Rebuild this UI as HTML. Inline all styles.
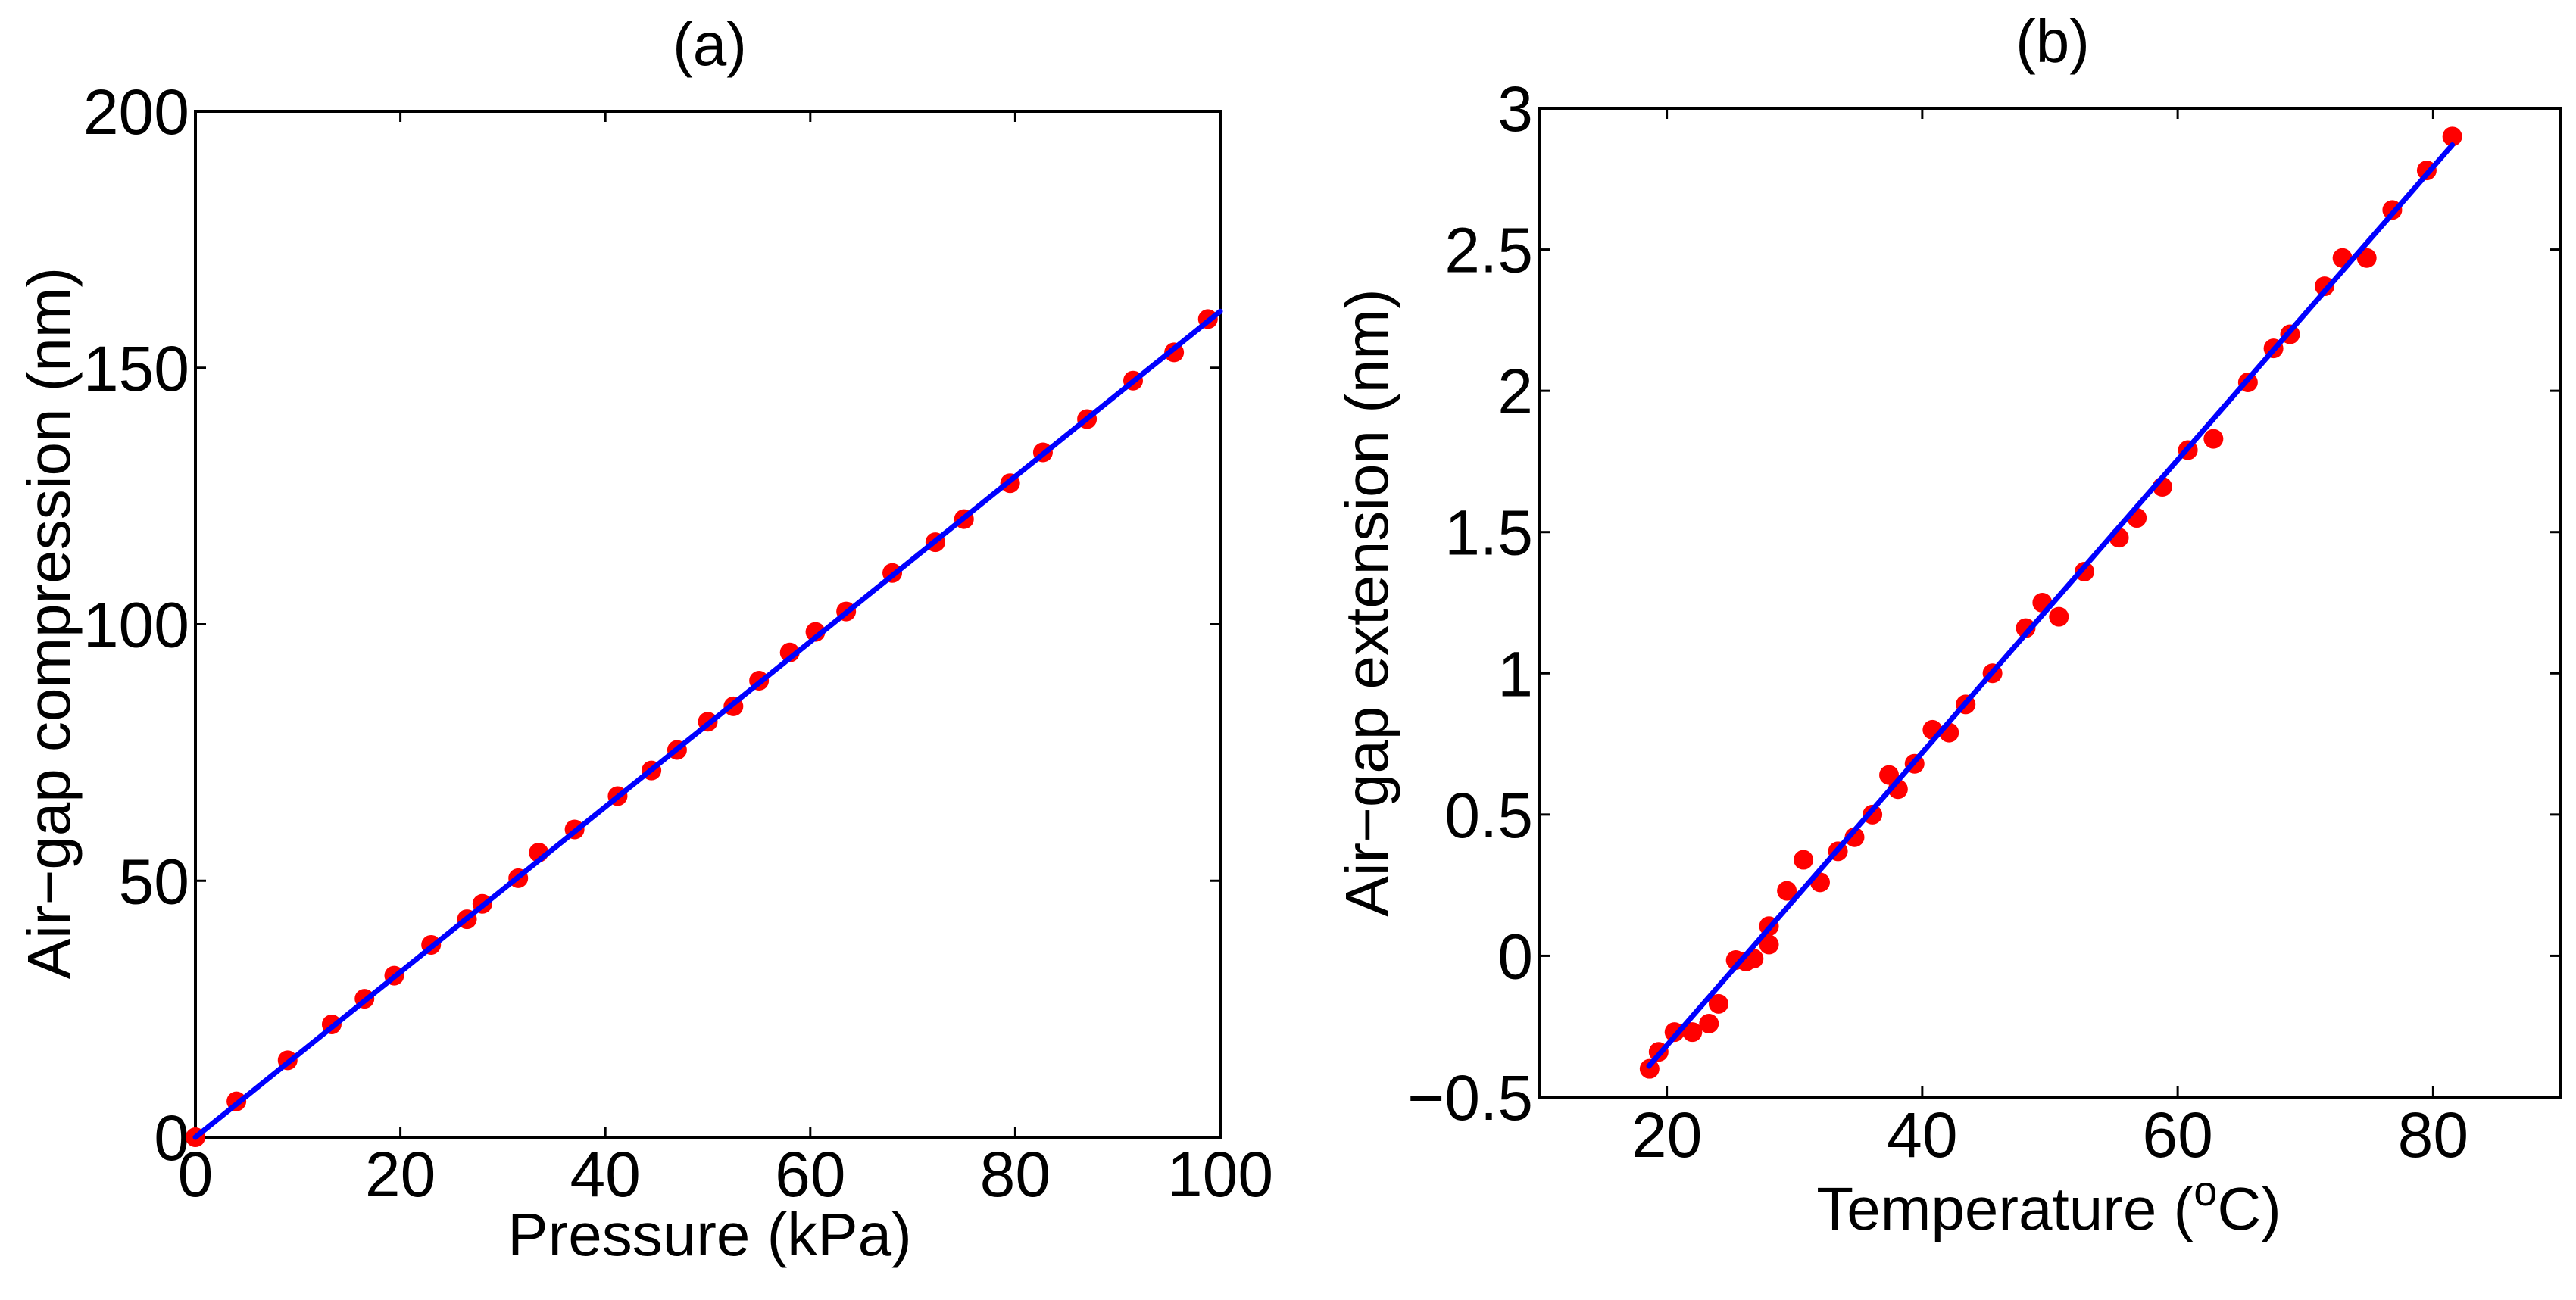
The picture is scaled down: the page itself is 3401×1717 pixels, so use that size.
<!DOCTYPE html>
<html><head><meta charset="utf-8"><style>
html,body{margin:0;padding:0;background:#fff;}
svg{display:block;font-family:"Liberation Sans",Arial,sans-serif;}
</style></head><body>
<svg id="c" width="3401" height="1717" viewBox="0 0 3401 1717"></svg>
<script>
// Panel (a) data
const aX = [0,4,9,13.3,16.5,19.4,23,26.5,28,31.5,33.5,37,41.2,44.5,47,50,52.5,55,58,60.5,63.5,68,72.2,75,79.5,82.7,87,91.5,95.5,98.8];
const aY = [0,7,15,22,27,31.5,37.5,42.5,45.5,50.5,55.5,60,66.5,71.5,75.5,81,84,89,94.5,98.5,102.5,110,116,120.5,127.5,133.5,140,147.5,153,159.5];
const aFitX = [0,100];
const aFitY = [0,161];
const aXTicks = [0,20,40,60,80,100];
const aYTicks = [0,50,100,150,200];
// Panel (b) data
const bX = [18.65,19.36,20.6,22.0,23.3,24.05,25.4,26.2,26.8,28.0,28.0,29.4,30.7,32.0,33.4,34.7,36.1,37.4,38.1,39.4,40.8,42.1,43.4,45.5,48.1,49.4,50.7,52.7,55.4,56.8,58.8,60.8,62.8,65.5,67.5,68.8,71.5,72.9,74.8,76.8,79.5,81.5];
const bY = [-0.40,-0.34,-0.27,-0.27,-0.24,-0.17,-0.015,-0.02,-0.01,0.04,0.105,0.23,0.34,0.26,0.37,0.42,0.50,0.64,0.59,0.68,0.80,0.79,0.89,1.00,1.16,1.25,1.20,1.36,1.48,1.55,1.66,1.79,1.83,2.03,2.15,2.20,2.37,2.47,2.47,2.64,2.78,2.90];
const bFitX = [18.6,81.5];
const bFitY = [-0.39,2.87];
const bXTicks = [20,40,60,80];
const bYTicks = [-0.5,0,0.5,1,1.5,2,2.5,3];
const bYTickLabels = ['\u22120.5','0','0.5','1','1.5','2','2.5','3'];

const NS='http://www.w3.org/2000/svg';
const svg=document.getElementById('c');
function mk(tag,attrs,parent){const e=document.createElementNS(NS,tag);for(const k in attrs)e.setAttribute(k,attrs[k]);(parent||svg).appendChild(e);return e;}

function panel(o){
  const g=mk('g',{});
  
  
  const sx=v=>o.L+(v-o.x0)/(o.x1-o.x0)*(o.R-o.L);
  const sy=v=>o.B-(v-o.y0)/(o.y1-o.y0)*(o.B-o.T);
  const T=14;
  // ticks
  o.xt.forEach((v,i)=>{
    const x=sx(v);
    mk('line',{x1:x,y1:o.B,x2:x,y2:o.B-T,stroke:'#000','stroke-width':3},g);
    mk('line',{x1:x,y1:o.T,x2:x,y2:o.T+T,stroke:'#000','stroke-width':3},g);
    const t=mk('text',{x:x,y:o.xlY,'font-size':84,'text-anchor':'middle'},g);
    
    
    t.textContent=o.xtl?o.xtl[i]:String(v);
  });
  o.yt.forEach((v,i)=>{
    const y=sy(v);
    mk('line',{x1:o.L,y1:y,x2:o.L+T,y2:y,stroke:'#000','stroke-width':3},g);
    mk('line',{x1:o.R,y1:y,x2:o.R-T,y2:y,stroke:'#000','stroke-width':3},g);
    const t=mk('text',{x:o.ylX,y:y+30,'font-size':84,'text-anchor':'end'},g);
    
    
    t.textContent=o.ytl?o.ytl[i]:String(v);
  });
  const fr=mk('rect',{x:o.L,y:o.T,width:o.R-o.L,height:o.B-o.T,fill:'none',stroke:'#000','stroke-width':4},g);
  
  
  o.px.forEach((v,i)=>{
    const c=mk('circle',{cx:sx(v),cy:sy(o.py[i]),r:13,fill:'#ff0000'},g);
    
    
  });
  const ln=mk('line',{x1:sx(o.fx[0]),y1:sy(o.fy[0]),x2:sx(o.fx[1]),y2:sy(o.fy[1]),stroke:'#0000ff','stroke-width':7,'stroke-linecap':'round'},g);
  
  
}

panel({name:'panel-a',L:258,R:1611,T:147,B:1502,x0:0,x1:100,y0:0,y1:200,xt:aXTicks,yt:aYTicks,px:aX,py:aY,fx:aFitX,fy:aFitY,xlY:1580,ylX:250});
panel({name:'panel-b',L:2032,R:3381,T:143,B:1449,x0:10,x1:90,y0:-0.5,y1:3,xt:bXTicks,yt:bYTicks,ytl:bYTickLabels,px:bX,py:bY,fx:bFitX,fy:bFitY,xlY:1528,ylX:2024});
</script>
<svg style="position:absolute;left:0;top:0" width="3401" height="1717">
<g font-family="Liberation Sans, Arial, sans-serif" font-size="80">
<text x="937" y="86" text-anchor="middle">(a)</text>
<text x="937" y="1658" text-anchor="middle">Pressure (kPa)</text>
<text transform="translate(92,823) rotate(-90)" text-anchor="middle">Air−gap compression (nm)</text>
<text x="2710" y="82" text-anchor="middle">(b)</text>
<text x="2705" y="1624" text-anchor="middle">Temperature (<tspan dy="-32" font-size="56">o</tspan><tspan dy="32">C)</tspan></text>
<text transform="translate(1832,796) rotate(-90)" text-anchor="middle">Air−gap extension (nm)</text>
</g>
</svg>
</body></html>
